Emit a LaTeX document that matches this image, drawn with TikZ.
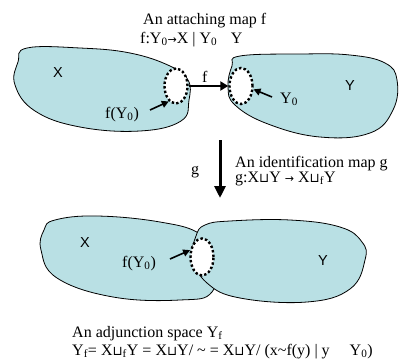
\documentclass[tikz,border=0pt]{standalone}
\usepackage{fontspec}
\setmainfont{Liberation Serif}
\newfontfamily\sansf{Liberation Sans}
\newfontfamily\symf{DejaVu Sans}
\usetikzlibrary{arrows.meta,shapes.geometric}
\definecolor{blobc}{RGB}{185,224,228}
\newcommand{\dsu}{{\symf\fontsize{13}{15}\selectfont ⊔}}
\newcommand{\rarr}{{\symf\fontsize{11}{13}\selectfont →}}
\begin{document}
\begin{tikzpicture}[x=1pt,y=-1pt,
  blob/.style={draw=black, line width=0.8pt, fill=blobc},
  hole/.style={ellipse, draw=black, fill=white, line width=2.4pt,
    dash pattern=on 2.4pt off 2.2pt, inner sep=0pt},
  lab/.style={font=\fontsize{16}{19}\selectfont, inner sep=0pt, anchor=base west},
  big/.style={font=\sansf\fontsize{14.5}{17}\selectfont, inner sep=0pt, anchor=base west},
  ptr/.style={-{Triangle[length=7pt,width=7pt]}, line width=1.6pt},
  maparrow/.style={-{Triangle[length=8pt,width=9pt]}, line width=2pt},
  garrow/.style={-{Triangle[length=12pt,width=11pt]}, line width=3pt}]
\useasboundingbox (0,0) rectangle (399,359);

% top blobs
\draw[blob] plot[smooth cycle, tension=0.7] coordinates {
  (27,48) (80,48) (130,53) (170,66) (188,80) (189,100) (181,121)
  (140,131) (80,127) (35,111) (15,85) (18,62)};
\draw[blob] plot[smooth cycle, tension=0.7] coordinates {
  (240,56) (300,54) (350,55) (385,63) (397,80) (393,110) (370,133)
  (320,137) (268,124) (235,105) (228,87) (232,66)};

\node[hole, minimum width=23pt, minimum height=35pt] (e1) at (176,86) {};
\node[hole, minimum width=23pt, minimum height=36pt] (e2) at (241,86) {};

\node[big] (X1) at (53,77) {X};
\node[big] (Y1) at (345,90) {Y};
\node[lab] (fy1) at (105,118) {f(Y\textsubscript{0})};
\node[lab] (y01) at (280,103) {Y\textsubscript{0}};
\node[lab] (fl) at (202,82) {f};

\coordinate (a1) at (150,110);
\coordinate (a2) at (272,97);
\draw[ptr] (a1) -- (e1.245);
\draw[ptr] (a2) -- (e2.345);
\draw[maparrow] (e1.east) -- (e2.west);

\node[lab] (t1) at (143,24) {An attaching map f};
\node[lab] (t2) at (140,43) {f:Y\textsubscript{0}\rarr X | Y\textsubscript{0}\hspace{0.6em} Y};

% g arrow
\coordinate (g1) at (220,140);
\coordinate (g2) at (220,198);
\draw[garrow] (g1) -- (g2);
\node[lab] (gl) at (191,174) {g};
\node[lab] (t3) at (235,167) {An identification map g};
\node[lab] (t4) at (235,182) {g:X\dsu Y \rarr\ X\dsu\textsubscript{f}Y};

% bottom blobs
\draw[blob] plot[smooth cycle, tension=0.7] coordinates {
  (55,220) (97,216) (160,222) (200,234) (215,258) (212,292)
  (180,300) (113,297) (57,278) (41,250) (44,230)};
\draw[blob] plot[smooth cycle, tension=0.7] coordinates {
  (205,225) (230,221) (290,220) (340,227) (362,242) (365,260)
  (350,289) (307,302) (240,298) (207,283) (193,258) (196,236)};

\node[hole, minimum width=23pt, minimum height=37pt] (e3) at (202,257) {};
\node[big] (X2) at (80,247) {X};
\node[big] (Y2) at (318,265) {Y};
\node[lab] (fy2) at (122,267) {f(Y\textsubscript{0})};
\coordinate (a3) at (170,259);
\draw[ptr] (a3) -- (e3.150);

\node[lab] (t5) at (72,337) {An adjunction space Y\textsubscript{f}};
\node[lab] (t6) at (72,355) {Y\textsubscript{f}= X\dsu\textsubscript{f}Y = X\dsu Y/ \textasciitilde\ = X\dsu Y/ (x\textasciitilde f(y) | y\hspace{1em} Y\textsubscript{0})};
\end{tikzpicture}
\end{document}
